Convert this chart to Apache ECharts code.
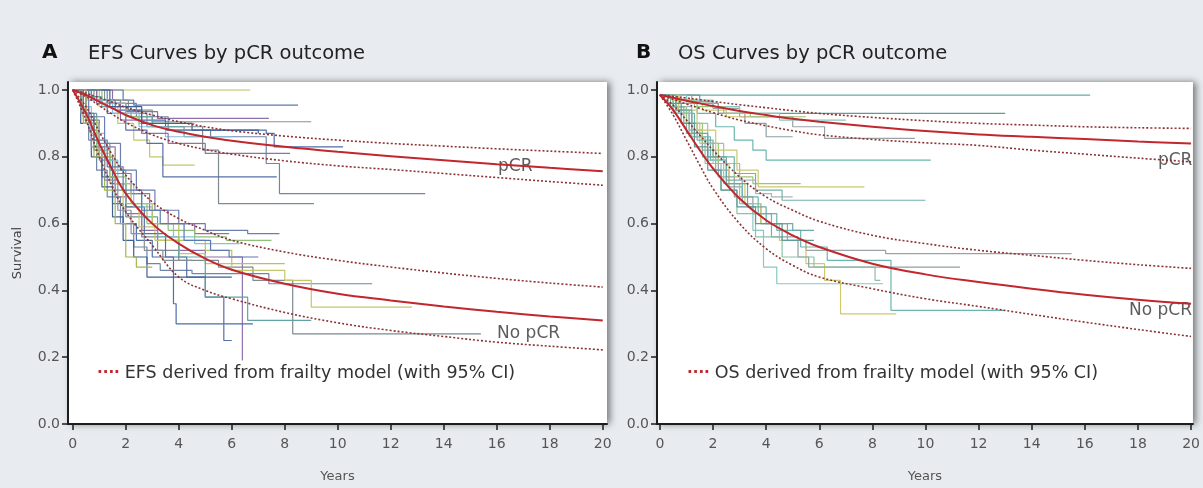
<!DOCTYPE html>
<html>
<head>
<meta charset="utf-8">
<script src="https://cdn.jsdelivr.net/npm/echarts@6/dist/echarts.min.js"></script>
<style>
  html, body { margin: 0; padding: 0; background: #e8ecf0; }
  #chart { width: 1203px; height: 488px; }
</style>
</head>
<body>
<div id="chart"></div>
<script>
// years at which the frailty-model curves are read
var fitYears = [0, 0.5, 1, 1.5, 2, 3, 4, 5, 6, 8, 10, 12, 14, 16, 18, 20];

// EFS model curves (panel A)
var efsPcrFit   = [1.0, 0.985, 0.965, 0.945, 0.925, 0.895, 0.875, 0.86, 0.848, 0.83, 0.815, 0.802, 0.79, 0.778, 0.767, 0.757];
var efsPcrUpper = [1.0, 0.99, 0.977, 0.963, 0.948, 0.925, 0.905, 0.89, 0.878, 0.862, 0.85, 0.84, 0.832, 0.824, 0.817, 0.81];
var efsPcrLower = [1.0, 0.98, 0.953, 0.927, 0.903, 0.866, 0.84, 0.822, 0.808, 0.788, 0.773, 0.762, 0.75, 0.738, 0.726, 0.715];
var efsNoFit    = [1.0, 0.93, 0.84, 0.76, 0.69, 0.60, 0.54, 0.495, 0.462, 0.42, 0.39, 0.37, 0.352, 0.336, 0.322, 0.31];
var efsNoUpper  = [1.0, 0.95, 0.875, 0.805, 0.745, 0.665, 0.615, 0.58, 0.55, 0.515, 0.49, 0.47, 0.452, 0.436, 0.422, 0.41];
var efsNoLower  = [1.0, 0.91, 0.80, 0.71, 0.635, 0.535, 0.44, 0.40, 0.375, 0.334, 0.303, 0.28, 0.262, 0.245, 0.233, 0.222];

// OS model curves (panel B)
var osPcrFit   = [0.985, 0.977, 0.968, 0.96, 0.952, 0.937, 0.925, 0.914, 0.905, 0.89, 0.877, 0.867, 0.86, 0.853, 0.846, 0.84];
var osPcrUpper = [0.985, 0.981, 0.976, 0.971, 0.966, 0.956, 0.947, 0.938, 0.93, 0.918, 0.908, 0.9, 0.895, 0.89, 0.887, 0.885];
var osPcrLower = [0.985, 0.972, 0.958, 0.945, 0.932, 0.91, 0.893, 0.878, 0.866, 0.852, 0.842, 0.834, 0.82, 0.808, 0.796, 0.785];
var osNoFit    = [0.985, 0.94, 0.88, 0.82, 0.765, 0.675, 0.61, 0.565, 0.53, 0.48, 0.448, 0.425, 0.405, 0.387, 0.372, 0.36];
var osNoUpper  = [0.985, 0.955, 0.91, 0.865, 0.82, 0.74, 0.68, 0.64, 0.607, 0.565, 0.54, 0.52, 0.505, 0.49, 0.477, 0.466];
var osNoLower  = [0.985, 0.925, 0.85, 0.775, 0.705, 0.6, 0.525, 0.475, 0.44, 0.405, 0.375, 0.352, 0.328, 0.305, 0.283, 0.262];

// Kaplan-Meier curves per trial, [years, survival]
var efsPcrKm = [
  [[0,1],[6.7,1]],
  [[0,1],[1.9,0.97],[2.3,0.955],[8.5,0.955]],
  [[0,1],[1.2,0.97],[2.1,0.94],[3.0,0.905],[9.0,0.905]],
  [[0,1],[1.5,0.96],[2.0,0.935],[3.2,0.915],[7.4,0.915]],
  [[0,1],[0.9,0.97],[1.6,0.94],[2.6,0.91],[3.5,0.88],[7.3,0.87],[7.6,0.83],[10.2,0.83]],
  [[0,1],[1.3,0.96],[2.4,0.92],[3.6,0.88],[5.2,0.86],[7.3,0.78],[7.8,0.69],[13.3,0.69]],
  [[0,1],[0.8,0.97],[1.8,0.93],[2.8,0.89],[4.9,0.82],[5.5,0.66],[9.1,0.66]],
  [[0,1],[1.0,0.95],[1.7,0.9],[2.3,0.85],[2.9,0.8],[3.4,0.775],[4.6,0.775]],
  [[0,1],[0.7,0.97],[1.3,0.93],[2.0,0.88],[2.8,0.84],[3.4,0.74],[7.7,0.74]],
  [[0,1],[0.6,0.98],[1.1,0.95],[2.2,0.92],[3.0,0.89],[4.2,0.86],[5.0,0.86]],
  [[0,1],[0.5,0.97],[1.5,0.93],[2.5,0.89],[3.5,0.86],[6.0,0.86]],
  [[0,1],[0.9,0.96],[1.8,0.91],[2.6,0.87],[3.6,0.84],[5.0,0.81],[8.2,0.81]],
  [[0,1],[1.1,0.96],[2.0,0.92],[2.5,0.9],[4.6,0.9]],
  [[0,1],[1.4,0.95],[2.6,0.9],[4.5,0.88],[7.0,0.87]]
];
var efsNoKm = [
  [[0,1],[0.3,0.95],[0.6,0.88],[0.9,0.8],[1.2,0.74],[1.6,0.68],[2.0,0.63],[2.6,0.58],[3.2,0.55],[4.0,0.52],[5.0,0.5],[6.4,0.19]],
  [[0,1],[0.4,0.92],[0.8,0.82],[1.1,0.74],[1.5,0.66],[1.9,0.6],[2.4,0.55],[3.0,0.5],[3.8,0.36],[3.9,0.3],[6.8,0.3]],
  [[0,1],[0.3,0.93],[0.6,0.85],[0.9,0.76],[1.3,0.68],[1.8,0.6],[2.3,0.53],[2.8,0.48],[3.3,0.46],[4.5,0.45],[7.4,0.42],[11.3,0.42]],
  [[0,1],[0.5,0.9],[1.0,0.79],[1.5,0.7],[2.0,0.62],[2.6,0.56],[3.2,0.52],[4.0,0.49],[5.5,0.47],[6.8,0.43],[8.3,0.27],[15.4,0.27]],
  [[0,1],[0.4,0.91],[0.9,0.81],[1.4,0.72],[1.9,0.65],[2.5,0.59],[3.1,0.55],[4.0,0.51],[5.0,0.48],[6.0,0.46],[8.0,0.43],[9.0,0.35],[12.8,0.35]],
  [[0,1],[0.5,0.9],[1.0,0.8],[1.5,0.72],[2.0,0.65],[2.7,0.57],[3.5,0.5],[4.3,0.44],[5.0,0.38],[5.7,0.25],[6.0,0.25]],
  [[0,1],[0.4,0.93],[0.9,0.84],[1.4,0.76],[2.0,0.69],[2.6,0.62],[3.2,0.56],[4.0,0.5],[5.0,0.38],[6.6,0.31],[9.0,0.31]],
  [[0,1],[0.3,0.95],[0.7,0.87],[1.2,0.79],[1.7,0.72],[2.3,0.65],[3.0,0.6],[3.8,0.56],[4.6,0.54],[6.3,0.54]],
  [[0,1],[0.5,0.91],[1.0,0.83],[1.6,0.75],[2.2,0.69],[2.9,0.64],[3.6,0.6],[4.6,0.57],[5.9,0.57]],
  [[0,1],[0.4,0.92],[0.9,0.82],[1.4,0.74],[2.0,0.66],[2.8,0.6],[3.6,0.58],[4.6,0.56],[5.8,0.55],[7.5,0.55]],
  [[0,1],[0.3,0.9],[0.7,0.8],[1.1,0.71],[1.5,0.62],[1.9,0.55],[2.3,0.5],[2.8,0.44],[6.0,0.44]],
  [[0,1],[0.4,0.9],[0.8,0.8],[1.2,0.7],[1.6,0.6],[2.0,0.5],[2.4,0.47],[3.0,0.47]],
  [[0,1],[0.6,0.92],[1.2,0.84],[1.8,0.76],[2.4,0.7],[3.1,0.64],[4.0,0.6],[5.0,0.58],[6.6,0.57],[7.8,0.57]],
  [[0,1],[0.5,0.9],[1.0,0.8],[1.6,0.72],[2.2,0.66],[3.0,0.6],[4.0,0.55],[5.0,0.52],[6.0,0.48],[8.0,0.48]],
  [[0,1],[0.4,0.93],[0.8,0.85],[1.3,0.77],[1.9,0.7],[2.6,0.64],[3.3,0.6],[4.2,0.55],[5.2,0.52],[5.9,0.5],[7.0,0.5]],
  [[0,1],[0.3,0.93],[0.7,0.83],[1.2,0.73],[1.7,0.64],[2.2,0.57],[2.7,0.52],[3.4,0.49],[4.5,0.49]]
];
var osPcrKm = [
  [[0,0.985],[16.2,0.985]],
  [[0,0.985],[1.5,0.96],[2.2,0.93],[13.0,0.93]],
  [[0,0.985],[1.0,0.965],[2.0,0.945],[3.0,0.92],[5.0,0.89],[6.2,0.855],[9.6,0.855]],
  [[0,0.985],[0.8,0.96],[1.6,0.94],[2.5,0.92],[4.5,0.92]],
  [[0,0.985],[0.7,0.96],[1.4,0.93],[2.1,0.89],[2.8,0.85],[3.5,0.82],[4.0,0.79],[10.2,0.79]],
  [[0,0.985],[1.2,0.96],[2.2,0.93],[3.2,0.9],[4.0,0.86],[5.0,0.86]],
  [[0,0.985],[1.0,0.97],[2.0,0.95],[3.0,0.93],[4.5,0.91],[7.0,0.91]],
  [[0,0.985],[0.5,0.97],[1.3,0.95],[2.4,0.93],[3.4,0.92],[5.5,0.92]]
];
var osNoKm = [
  [[0,0.985],[0.6,0.94],[1.1,0.88],[1.6,0.82],[2.1,0.76],[2.6,0.71],[3.1,0.66],[3.8,0.6],[4.8,0.55],[5.5,0.52],[8.5,0.51],[15.5,0.51]],
  [[0,0.985],[0.5,0.95],[1.0,0.9],[1.5,0.84],[2.0,0.78],[2.6,0.72],[3.2,0.66],[3.8,0.6],[4.5,0.55],[5.5,0.48],[6.2,0.43],[6.8,0.33],[8.9,0.33]],
  [[0,0.985],[0.7,0.93],[1.3,0.86],[1.9,0.79],[2.5,0.73],[3.1,0.68],[3.7,0.63],[4.4,0.58],[5.3,0.53],[6.3,0.49],[8.7,0.34],[13.0,0.34]],
  [[0,0.985],[0.5,0.94],[1.0,0.87],[1.6,0.8],[2.2,0.74],[2.8,0.68],[3.5,0.63],[4.2,0.56],[5.2,0.5],[5.6,0.47],[11.3,0.47]],
  [[0,0.985],[0.6,0.93],[1.2,0.86],[1.8,0.79],[2.4,0.72],[3.0,0.66],[3.5,0.58],[3.9,0.47],[4.4,0.42],[8.4,0.42]],
  [[0,0.985],[0.5,0.95],[1.0,0.9],[1.6,0.84],[2.2,0.78],[2.8,0.74],[3.5,0.72],[5.3,0.72]],
  [[0,0.985],[0.6,0.95],[1.2,0.9],[1.8,0.84],[2.4,0.78],[3.0,0.73],[3.6,0.69],[4.2,0.68],[5.0,0.68]],
  [[0,0.985],[0.4,0.95],[0.9,0.9],[1.4,0.85],[2.0,0.8],[2.8,0.75],[3.6,0.7],[4.6,0.67],[10.0,0.67]],
  [[0,0.985],[0.7,0.94],[1.4,0.88],[2.1,0.82],[2.9,0.76],[3.7,0.71],[7.7,0.71]],
  [[0,0.985],[0.5,0.93],[1.1,0.86],[1.7,0.78],[2.3,0.7],[2.9,0.63],[3.6,0.56],[4.6,0.5],[5.8,0.47],[7.2,0.47],[8.1,0.43],[8.3,0.43]],
  [[0,0.985],[0.6,0.94],[1.2,0.87],[1.8,0.8],[2.5,0.72],[3.3,0.65],[4.0,0.6],[5.0,0.58],[5.8,0.58]],
  [[0,0.985],[0.3,0.96],[0.8,0.9],[1.3,0.83],[1.8,0.76],[2.3,0.7],[2.9,0.65],[3.6,0.6],[4.6,0.55],[5.8,0.55]]
];

var efsKmColors = ['#b9c15a', '#5b7bb0', '#8a9099', '#8d6fae', '#4e6fa8', '#6f86a8', '#7d8a90', '#c2c86a', '#5570a6', '#5fa3a3', '#86c0dc', '#9270a8', '#8fbf7a', '#3f5f98', '#a0b850', '#6a7fb0'];
var osKmColors = ['#6aaaa6', '#5e9a98', '#9aa2a6', '#d0c870', '#6bb5b0', '#8fa0a0', '#88c8c4', '#9cc47a', '#aeb4b8', '#76b0a8', '#c9c96e', '#8cc0a8'];

var xTicks = [0, 2, 4, 6, 8, 10, 12, 14, 16, 18, 20];
var yTicks = [0, 0.2, 0.4, 0.6, 0.8, 1.0];

var fitRed = '#c1272d';
var ciColor = '#8c3434';
var font = '"DejaVu Sans", "Open Sans", sans-serif';

function pairs(ys) {
  return fitYears.map(function (x, i) { return [x, ys[i]]; });
}

function kmSeries(curves, colors, idx) {
  return curves.map(function (c, i) {
    return {
      type: 'line', xAxisIndex: idx, yAxisIndex: idx, data: c, step: 'end',
      showSymbol: false, silent: true, z: 2,
      lineStyle: { color: colors[i % colors.length], width: 1.2 }
    };
  });
}

function fitSeries(ys, dotted, idx) {
  return {
    type: 'line', xAxisIndex: idx, yAxisIndex: idx, data: pairs(ys), smooth: 0.4,
    showSymbol: false, silent: true, z: 4,
    lineStyle: dotted ? { color: ciColor, width: 1.6, type: [2, 2] } : { color: fitRed, width: 2 }
  };
}

function labelSeries(items, idx) {
  return {
    type: 'scatter', xAxisIndex: idx, yAxisIndex: idx, symbolSize: 0, silent: true, z: 3,
    data: items.map(function (it) {
      return { value: [it[0], it[1]], label: { show: true, formatter: it[2], position: 'inside', color: '#333', fontSize: 17, fontFamily: font } };
    })
  };
}

function makeX(idx, min, max) {
  return {
    gridIndex: idx, type: 'value', min: min, max: max,
    name: 'Years', nameLocation: 'middle', nameGap: 46,
    nameTextStyle: { color: '#555', fontSize: 13, fontFamily: font },
    splitLine: { show: false },
    axisLine: { show: true, onZero: false, lineStyle: { color: '#1d1d1d', width: 2 } },
    axisTick: { show: true, customValues: xTicks, length: 6, lineStyle: { color: '#1d1d1d', width: 1.5 } },
    axisLabel: { customValues: xTicks, color: '#555', fontSize: 14, margin: 13, fontFamily: font }
  };
}

function makeY(idx, withName) {
  return {
    gridIndex: idx, type: 'value', min: 0, max: 1.024,
    name: withName ? 'Survival' : '', nameLocation: 'middle', nameGap: 44,
    nameTextStyle: { color: '#444', fontSize: 13, fontFamily: font },
    splitLine: { show: false },
    axisLine: { show: true, onZero: false, lineStyle: { color: '#1d1d1d', width: 2 } },
    axisTick: { show: true, customValues: yTicks, length: 6, lineStyle: { color: '#1d1d1d', width: 1.5 } },
    axisLabel: {
      customValues: yTicks, color: '#555', fontSize: 14, margin: 8, fontFamily: font,
      formatter: function (v) { return v.toFixed(1); }
    }
  };
}

function headText(left, top, text, size, weight, color) {
  return { left: left, top: top, text: text, textStyle: { fontSize: size, fontWeight: weight, color: color, fontFamily: font } };
}

function noteText(left, text) {
  return {
    left: left, top: 359, text: '{d|····} {t|' + text + '}',
    textStyle: { fontWeight: 'normal', rich: {
      d: { fontSize: 15, color: fitRed, fontWeight: 'bold', fontFamily: font },
      t: { fontSize: 17.5, color: '#333', fontWeight: 'normal', fontFamily: font }
    } }
  };
}

var gridStyle = {
  show: true, backgroundColor: '#ffffff', borderWidth: 0,
  shadowColor: 'rgba(0,0,0,0.5)', shadowBlur: 7, shadowOffsetX: 3, shadowOffsetY: 0
};

var series = [].concat(
  kmSeries(efsPcrKm, efsKmColors, 0),
  kmSeries(efsNoKm, efsKmColors.slice(3).concat(efsKmColors.slice(0, 3)), 0),
  [fitSeries(efsPcrUpper, true, 0), fitSeries(efsPcrLower, true, 0), fitSeries(efsPcrFit, false, 0),
   fitSeries(efsNoUpper, true, 0), fitSeries(efsNoLower, true, 0), fitSeries(efsNoFit, false, 0)],
  [labelSeries([[16.7, 0.77, 'pCR'], [17.2, 0.272, 'No pCR']], 0)],
  kmSeries(osPcrKm, osKmColors, 1),
  kmSeries(osNoKm, osKmColors.slice(2).concat(osKmColors.slice(0, 2)), 1),
  [fitSeries(osPcrUpper, true, 1), fitSeries(osPcrLower, true, 1), fitSeries(osPcrFit, false, 1),
   fitSeries(osNoUpper, true, 1), fitSeries(osNoLower, true, 1), fitSeries(osNoFit, false, 1)],
  [labelSeries([[19.4, 0.79, 'pCR'], [18.85, 0.34, 'No pCR']], 1)]
);

var chart = echarts.init(document.getElementById('chart'));
chart.setOption({
  backgroundColor: '#e8ecf0',
  animation: false,
  title: [
    headText(37, 38, 'A', 20, 'bold', '#111'),
    headText(83, 39, 'EFS Curves by pCR outcome', 19.5, 'normal', '#222'),
    headText(631, 38, 'B', 20, 'bold', '#111'),
    headText(673, 39, 'OS Curves by pCR outcome', 19.5, 'normal', '#222'),
    noteText(92, 'EFS derived from frailty model (with 95% CI)'),
    noteText(682, 'OS derived from frailty model (with 95% CI)')
  ],
  grid: [
    Object.assign({ left: 68, top: 82, width: 539, height: 342 }, gridStyle),
    Object.assign({ left: 657, top: 82, width: 537, height: 342 }, gridStyle)
  ],
  xAxis: [makeX(0, -0.18, 20.16), makeX(1, -0.11, 20.07)],
  yAxis: [makeY(0, true), makeY(1, false)],
  series: series
});
</script>
</body>
</html>
